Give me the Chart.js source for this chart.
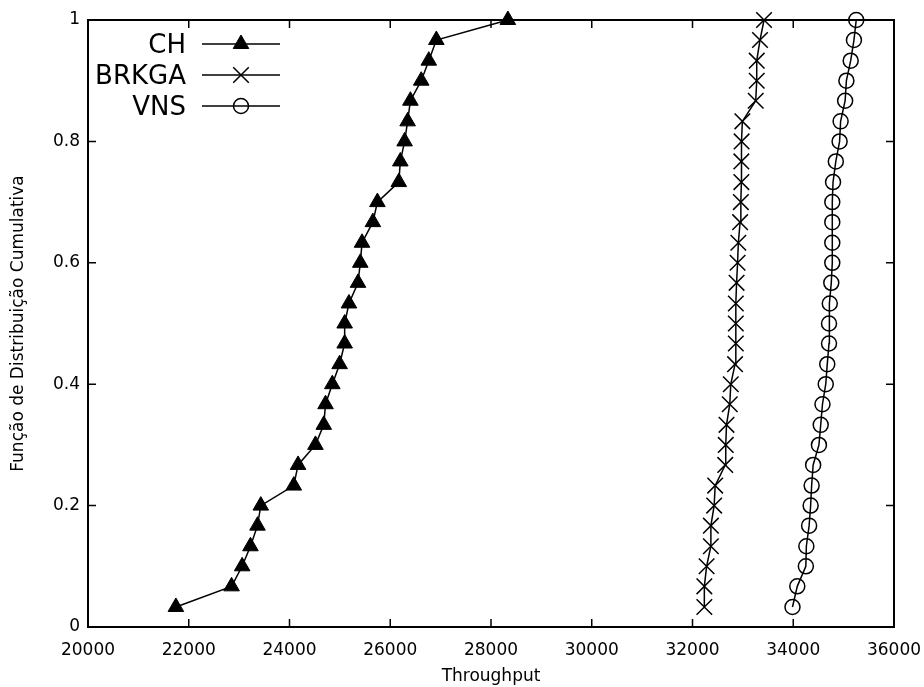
<!DOCTYPE html>
<html>
<head>
<meta charset="utf-8">
<title>CDF Throughput</title>
<script src="https://cdn.jsdelivr.net/npm/chart.js@4.4.0/dist/chart.umd.min.js"></script>
<style>
  html, body { margin: 0; padding: 0; background: #fff; }
  #wrap { width: 924px; height: 687px; }
</style>
</head>
<body>
<div id="wrap"><canvas id="cdfChart" width="924" height="687"></canvas></div>
<script>
// dados
const seriesNames = ["CH", "BRKGA", "VNS"];
const cdfLevels = [0.033, 0.067, 0.1, 0.133, 0.167, 0.2, 0.233, 0.267, 0.3, 0.333,
                   0.367, 0.4, 0.433, 0.467, 0.5, 0.533, 0.567, 0.6, 0.633, 0.667,
                   0.7, 0.733, 0.767, 0.8, 0.833, 0.867, 0.9, 0.933, 0.967, 1];
const chThroughput = [21745, 22850, 23060, 23225, 23365, 23430, 24085, 24170, 24515, 24680,
                      24715, 24850, 24995, 25095, 25095, 25180, 25360, 25405, 25440, 25655,
                      25745, 26170, 26200, 26285, 26345, 26400, 26615, 26765, 26915, 28335];
const brkgaThroughput = [32235, 32235, 32280, 32365, 32365, 32430, 32450, 32650, 32660, 32675,
                         32740, 32760, 32845, 32860, 32860, 32860, 32875, 32895, 32910, 32945,
                         32960, 32970, 32970, 32975, 32990, 33255, 33275, 33275, 33340, 33420];
const vnsThroughput = [33985, 34080, 34250, 34260, 34315, 34345, 34365, 34395, 34510, 34545,
                       34580, 34645, 34675, 34710, 34710, 34725, 34755, 34775, 34775, 34775,
                       34775, 34790, 34845, 34920, 34940, 35030, 35055, 35140, 35205, 35250];
const xTickLabels = ["20000", "22000", "24000", "26000", "28000", "30000", "32000", "34000", "36000"];
const yTickLabels = ["0", "0.2", "0.4", "0.6", "0.8", "1"];

const FONT = "'DejaVu Sans', 'Liberation Sans', sans-serif";

function toPoints(xs) {
  return xs.map((v, i) => ({ x: v, y: cdfLevels[i] }));
}

// moldura + ticks para dentro (estilo gnuplot)
const framePlugin = {
  id: "frame",
  afterDraw(chart) {
    const { ctx, chartArea: a, scales: { x, y } } = chart;
    ctx.save();
    ctx.strokeStyle = "#000";
    ctx.lineWidth = 1.5;
    ctx.beginPath();
    x.ticks.forEach(t => {
      const px = x.getPixelForValue(t.value);
      ctx.moveTo(px, a.bottom); ctx.lineTo(px, a.bottom - 8);
      ctx.moveTo(px, a.top); ctx.lineTo(px, a.top + 8);
    });
    y.ticks.forEach(t => {
      const py = y.getPixelForValue(t.value);
      ctx.moveTo(a.left, py); ctx.lineTo(a.left + 8, py);
      ctx.moveTo(a.right, py); ctx.lineTo(a.right - 8, py);
    });
    ctx.stroke();
    ctx.lineWidth = 2;
    ctx.strokeRect(a.left, a.top, a.right - a.left, a.bottom - a.top);
    ctx.restore();
  }
};

// legenda no canto superior esquerdo, texto alinhado à direita
const keyPlugin = {
  id: "key",
  afterDraw(chart) {
    const ctx = chart.ctx;
    ctx.save();
    ctx.font = "26px " + FONT;
    ctx.textAlign = "right";
    ctx.textBaseline = "middle";
    chart.data.datasets.forEach((ds, i) => {
      const yy = 44 + i * 31;
      ctx.fillStyle = "#000";
      ctx.fillText(ds.label, 186, yy + 2);
      ctx.beginPath();
      ctx.lineWidth = 1.5;
      ctx.strokeStyle = "#000";
      ctx.moveTo(202, yy);
      ctx.lineTo(280, yy);
      ctx.stroke();
      ctx.fillStyle = ds.pointBackgroundColor;
      ctx.strokeStyle = ds.pointBorderColor;
      ctx.lineWidth = ds.pointBorderWidth;
      Chart.helpers.drawPoint(ctx, {
        pointStyle: ds.pointStyle,
        radius: ds.pointRadius,
        borderWidth: ds.pointBorderWidth,
        rotation: 0
      }, 241, yy);
    });
    ctx.restore();
  }
};

const ctx = document.getElementById("cdfChart");
new Chart(ctx, {
  type: "line",
  data: {
    datasets: [
      {
        label: seriesNames[0],
        data: toPoints(chThroughput),
        borderColor: "#000",
        borderWidth: 1.5,
        pointStyle: "triangle",
        pointRadius: 9,
        pointBorderWidth: 1,
        pointBackgroundColor: "#000",
        pointBorderColor: "#000"
      },
      {
        label: seriesNames[1],
        data: toPoints(brkgaThroughput),
        borderColor: "#000",
        borderWidth: 1.5,
        pointStyle: "crossRot",
        pointRadius: 11,
        pointBorderWidth: 1.5,
        pointBackgroundColor: "rgba(0,0,0,0)",
        pointBorderColor: "#000"
      },
      {
        label: seriesNames[2],
        data: toPoints(vnsThroughput),
        borderColor: "#000",
        borderWidth: 1.5,
        pointStyle: "circle",
        pointRadius: 7.5,
        pointBorderWidth: 1.5,
        pointBackgroundColor: "rgba(0,0,0,0)",
        pointBorderColor: "#000"
      }
    ]
  },
  options: {
    responsive: false,
    animation: false,
    clip: false,
    layout: { padding: { top: 20, right: 30, left: 0, bottom: 0 } },
    elements: { line: { tension: 0, fill: false } },
    plugins: {
      legend: { display: false },
      tooltip: { enabled: false }
    },
    scales: {
      x: {
        type: "linear",
        min: 20000,
        max: 36000,
        afterFit: s => { s.height = 60; s.paddingLeft = 0; s.paddingRight = 0; },
        grid: { display: false, drawTicks: false },
        border: { display: false },
        ticks: {
          stepSize: 2000,
          padding: 13,
          color: "#000",
          font: { family: FONT, size: 17 },
          maxRotation: 0,
          callback: (v, i) => xTickLabels[i]
        },
        title: {
          display: true,
          text: "Throughput",
          color: "#000",
          font: { family: FONT, size: 17 },
          padding: { top: 0, bottom: 0 }
        }
      },
      y: {
        type: "linear",
        min: 0,
        max: 1,
        afterFit: s => { s.width = 88; s.paddingTop = 0; s.paddingBottom = 0; },
        grid: { display: false, drawTicks: false },
        border: { display: false },
        ticks: {
          stepSize: 0.2,
          padding: 8,
          color: "#000",
          font: { family: FONT, size: 17 },
          callback: (v, i) => yTickLabels[i]
        },
        title: {
          display: true,
          text: "Função de Distribuição Cumulativa",
          color: "#000",
          font: { family: FONT, size: 17 },
          padding: { top: 8, bottom: 0 }
        }
      }
    }
  },
  plugins: [framePlugin, keyPlugin]
});
</script>
</body>
</html>
